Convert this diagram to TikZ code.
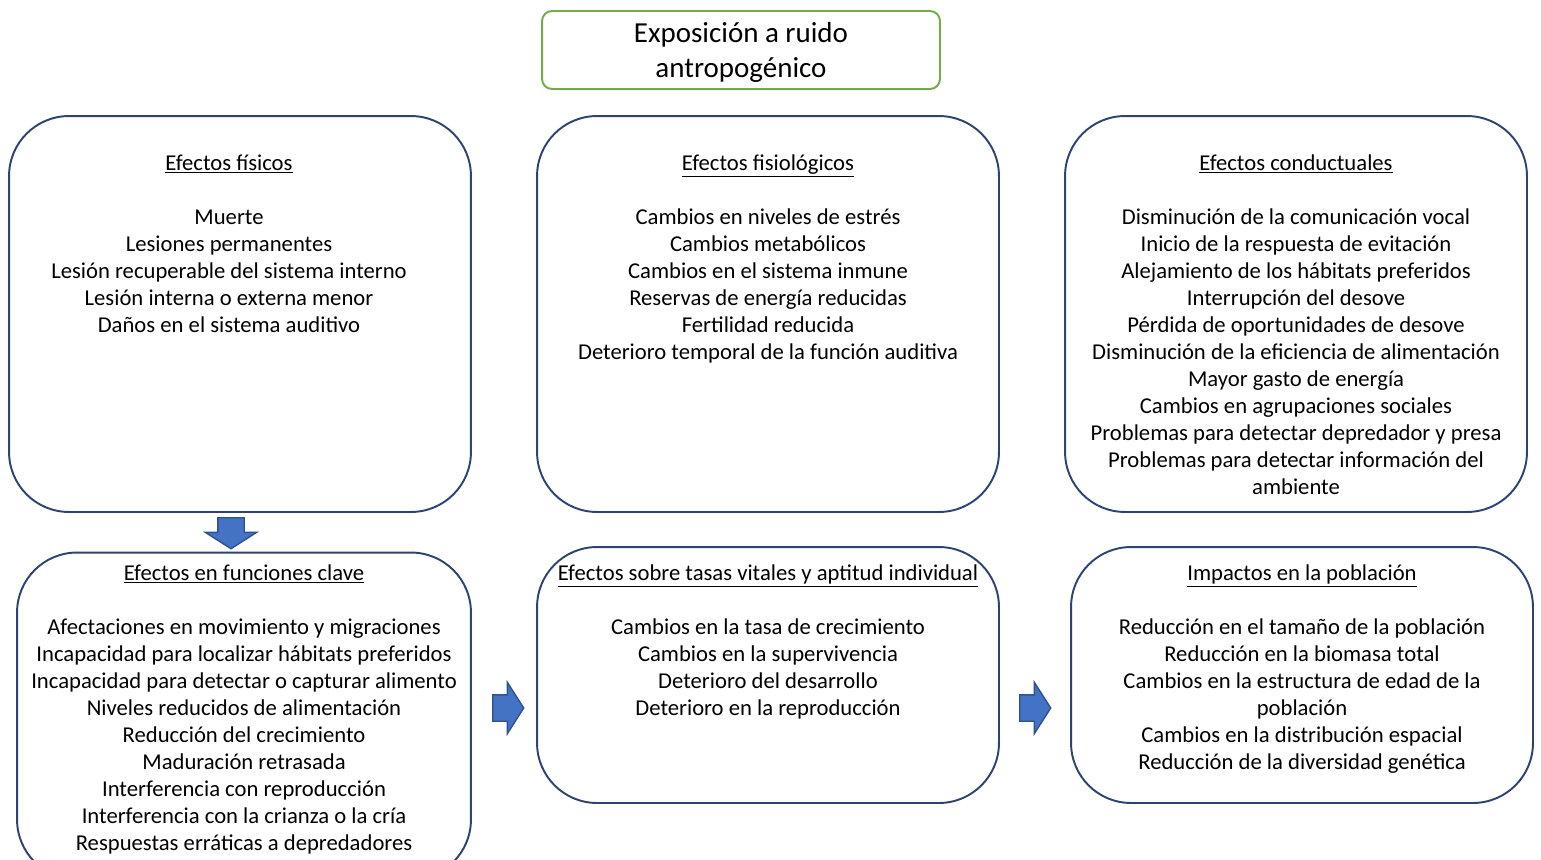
\documentclass[tikz,border=0pt]{standalone}
\usepackage{fontspec}
\setmainfont{Carlito}
\usetikzlibrary{shapes.arrows}

\begin{document}
\begin{tikzpicture}[x=0.02cm,y=-0.02cm,
  effbox/.style={draw=navy,line width=1.1pt,rounded corners=1.2cm},
  txt/.style={anchor=base,inner sep=0pt,font=\fontsize{12.9}{15.5}\selectfont},
  fatarrow/.style={single arrow,draw=arrowline,fill=arrowfill,line width=0.8pt,inner xsep=0pt,inner ysep=0.25cm,
    minimum height=0.62cm,single arrow head extend=0.25cm,single arrow tip angle=115}]
\definecolor{navy}{HTML}{2E4372}
\definecolor{leaf}{HTML}{70AD47}
\definecolor{arrowfill}{HTML}{4472C4}
\definecolor{arrowline}{HTML}{2F528F}
\fill[white] (0,0) rectangle (1541,859);
\useasboundingbox (0,0) rectangle (1541,859);
\clip (0,0) rectangle (1541,859);
% title
\node[draw=leaf,line width=1.1pt,rounded corners=0.2cm,minimum width=7.96cm,minimum height=1.56cm] (top) at (741,50) {};
\node[align=center,inner sep=0pt,font=\fontsize{16.5}{19.9}\selectfont] (top-t) at (741,52) {Exposición a ruido\\antropogénico};
% the six boxes
\node[effbox,minimum width=9.24cm,minimum height=7.92cm] (b1) at (240,314) {};
\node[effbox,minimum width=9.24cm,minimum height=7.92cm] (b2) at (768,314) {};
\node[effbox,minimum width=9.24cm,minimum height=7.92cm] (b3) at (1296,314) {};
\node[effbox,minimum width=9.08cm,minimum height=6.54cm] (b4) at (244,716) {};
\node[effbox,minimum width=9.24cm,minimum height=5.12cm] (b5) at (768,675) {};
\node[effbox,minimum width=9.24cm,minimum height=5.12cm] (b6) at (1302,675) {};
% arrows
\node[fatarrow,rotate=-90] (a1) at (231,529) {};
\node[fatarrow] (a2) at (504,708) {};
\node[fatarrow] (a3) at (1031,708) {};
% texts
\node[txt] (b1-h) at (229,170) {\underline{Efectos físicos}};
\foreach \txt [count=\i from 0] in {Muerte,Lesiones permanentes,Lesión recuperable del sistema interno,
  Lesión interna o externa menor,Daños en el sistema auditivo}
  {\node[txt] (b1-\i) at (229,224+27*\i) {\txt};}
\node[txt] (b2-h) at (768,170) {\underline{Efectos fisiológicos}};
\foreach \txt [count=\i from 0] in {Cambios en niveles de estrés,Cambios metabólicos,Cambios en el sistema inmune,
  Reservas de energía reducidas,Fertilidad reducida,Deterioro temporal de la función auditiva}
  {\node[txt] (b2-\i) at (768,224+27*\i) {\txt};}
\node[txt] (b3-h) at (1296,170) {\underline{Efectos conductuales}};
\foreach \txt [count=\i from 0] in {Disminución de la comunicación vocal,Inicio de la respuesta de evitación,
  Alejamiento de los hábitats preferidos,Interrupción del desove,Pérdida de oportunidades de desove,
  Disminución de la eficiencia de alimentación,Mayor gasto de energía,Cambios en agrupaciones sociales,
  Problemas para detectar depredador y presa,Problemas para detectar información del,ambiente}
  {\node[txt] (b3-\i) at (1296,224+27*\i) {\txt};}
\node[txt] (b4-h) at (244,580) {\underline{Efectos en funciones clave}};
\foreach \txt [count=\i from 0] in {Afectaciones en movimiento y migraciones,Incapacidad para localizar hábitats preferidos,
  Incapacidad para detectar o capturar alimento,Niveles reducidos de alimentación,Reducción del crecimiento,
  Maduración retrasada,Interferencia con reproducción,Interferencia con la crianza o la cría,
  Respuestas erráticas a depredadores}
  {\node[txt] (b4-\i) at (244,634+27*\i) {\txt};}
\node[txt] (b5-h) at (768,580) {\underline{Efectos sobre tasas vitales y aptitud individual}};
\foreach \txt [count=\i from 0] in {Cambios en la tasa de crecimiento,Cambios en la supervivencia,
  Deterioro del desarrollo,Deterioro en la reproducción}
  {\node[txt] (b5-\i) at (768,634+27*\i) {\txt};}
\node[txt] (b6-h) at (1302,580) {\underline{Impactos en la población}};
\foreach \txt [count=\i from 0] in {Reducción en el tamaño de la población,Reducción en la biomasa total,
  Cambios en la estructura de edad de la,población,Cambios en la distribución espacial,
  Reducción de la diversidad genética}
  {\node[txt] (b6-\i) at (1302,634+27*\i) {\txt};}
\end{tikzpicture}
\end{document}
